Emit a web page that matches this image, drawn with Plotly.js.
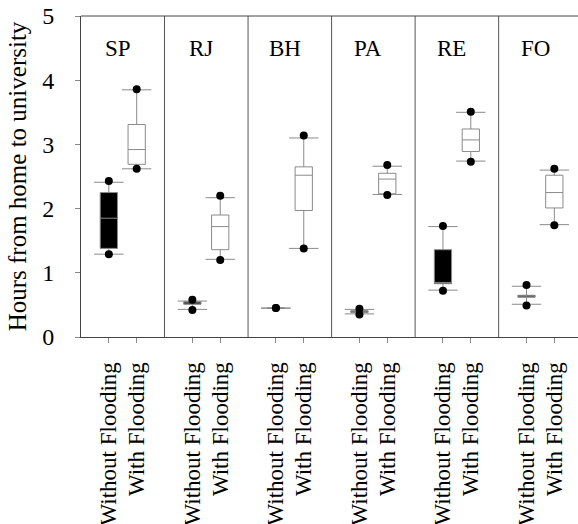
<!DOCTYPE html>
<html><head><meta charset="utf-8">
<script src="https://cdn.plot.ly/plotly-3.0.1.min.js"></script>
<style>html,body{margin:0;padding:0;overflow:hidden;background:#fff}</style>
</head><body><div id="chart" style="width:578px;height:524px"></div>
<script>
const panels = ['SP','RJ','BH','PA','RE','FO'];
const groups = ['Without Flooding','With Flooding'];

// Without Flooding
const woQ1     = [1.38, 0.51, 0.45, 0.38, 0.83, 0.62];
const woMedian = [1.85, 0.53, 0.45, 0.39, 0.85, 0.64];
const woQ3     = [2.25, 0.55, 0.45, 0.41, 1.36, 0.65];
const woLow    = [1.29, 0.43, 0.45, 0.36, 0.73, 0.51];
const woHigh   = [2.41, 0.56, 0.45, 0.43, 1.72, 0.79];
const woDotLow = [1.29, 0.42, 0.45, 0.35, 0.72, 0.49];
const woDotHigh= [2.43, 0.58, 0.45, 0.44, 1.73, 0.81];

// With Flooding
const wQ1      = [2.69, 1.36, 1.97, 2.23, 2.89, 2.01];
const wMedian  = [2.92, 1.72, 2.52, 2.46, 3.07, 2.25];
const wQ3      = [3.31, 1.90, 2.65, 2.55, 3.24, 2.52];
const wLow     = [2.62, 1.21, 1.38, 2.22, 2.74, 1.75];
const wHigh    = [3.85, 2.17, 3.10, 2.66, 3.50, 2.60];
const wDotLow  = [2.62, 1.20, 1.38, 2.21, 2.73, 1.74];
const wDotHigh = [3.86, 2.20, 3.14, 2.68, 3.51, 2.62];

const yTicks = [0,1,2,3,4,5];

const FONT = '"Liberation Serif", "Times New Roman", serif';
const xWo = panels.map((p,i)=>3*i+1);
const xW  = panels.map((p,i)=>3*i+2);
const boxW = 0.62;

function boxTrace(x, q1, med, q3, lo, hi, fill){
  return {type:'box', x:x, q1:q1, median:med, q3:q3, lowerfence:lo, upperfence:hi,
    width:boxW, whiskerwidth:0, fillcolor:fill, line:{color:'#8a8a8a', width:1},
    boxpoints:false, hoverinfo:'skip', showlegend:false};
}
function caps(x, lo, hi){
  return {type:'scatter', mode:'markers', x:x.concat(x), y:lo.concat(hi),
    marker:{symbol:'line-ew-open', size:21, color:'#8a8a8a', line:{color:'#8a8a8a', width:1}},
    showlegend:false, hoverinfo:'skip'};
}
function dots(x, lo, hi){
  return {type:'scatter', mode:'markers', x:x.concat(x), y:lo.concat(hi),
    marker:{symbol:'circle', size:8, color:'#000'}, showlegend:false, hoverinfo:'skip'};
}

const traces = [
  boxTrace(xWo, woQ1, woMedian, woQ3, woLow, woHigh, '#000'),
  boxTrace(xW, wQ1, wMedian, wQ3, wLow, wHigh, '#fff'),
  caps(xWo, woLow, woHigh), caps(xW, wLow, wHigh),
  dots(xWo, woDotLow, woDotHigh), dots(xW, wDotLow, wDotHigh)
];

const tickvals = [], ticktext = [];
panels.forEach((p,i)=>{ tickvals.push(3*i+1, 3*i+2); ticktext.push(groups[0], groups[1]); });

const shapes = panels.slice(1).map((p,i)=>({type:'line', xref:'x', yref:'paper',
  x0:3*(i+1), x1:3*(i+1), y0:0, y1:1, line:{color:'#555', width:1}}));
const annotations = panels.map((p,i)=>({text:p, x:3*i+1.32, y:4.5, xref:'x', yref:'y',
  showarrow:false, font:{family:FONT, size:23, color:'#000'}}));

const layout = {
  width:578, height:524,
  margin:{l:81, r:0, t:16, b:187},
  paper_bgcolor:'#fff', plot_bgcolor:'#fff',
  font:{family:FONT, color:'#000', size:23},
  xaxis:{range:[0,17.85], tickvals:tickvals, ticktext:ticktext, tickangle:-90,
    ticks:'outside', ticklen:5, tickcolor:'#888', showgrid:false, zeroline:false,
    showline:true, linecolor:'#444', mirror:false, ticklabelstandoff:10,
    tickfont:{family:FONT, size:23, color:'#000'}},
  yaxis:{range:[0,5], tickvals:yTicks, ticks:'outside', ticklen:5, tickcolor:'#888',
    showgrid:false, zeroline:false, showline:true, linecolor:'#444', ticklabelstandoff:16,
    tickfont:{family:FONT, size:24, color:'#000'},
    title:{text:'Hours from home to university', font:{family:FONT, size:25, color:'#000'}, standoff:8}},
  shapes: shapes.concat([{type:'line', xref:'paper', yref:'paper', x0:0, x1:1, y0:1, y1:1, line:{color:'#444', width:1}}]),
  annotations: annotations
};
Plotly.newPlot('chart', traces, layout, {staticPlot:true, displayModeBar:false});
</script></body></html>
